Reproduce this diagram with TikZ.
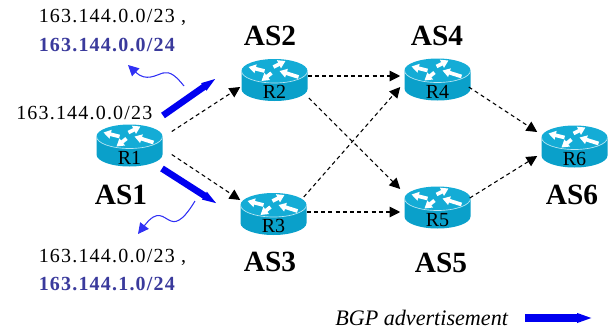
\documentclass[tikz,border=0pt]{standalone}
\usepackage{fontspec}
\setmainfont{Liberation Serif}
\newfontfamily\prefixfont[LetterSpace=6]{Liberation Serif}
\usetikzlibrary{arrows.meta}

\definecolor{routerside}{HTML}{0AA0CA}
\definecolor{routertop}{HTML}{14ACD6}
\definecolor{prefixblue}{HTML}{3A3A9C}
\definecolor{penblue}{HTML}{0000F0}
\definecolor{waveblue}{HTML}{3030F4}

\newcommand{\routernode}[4]{
  \pic at (#2,#3) {routericon};
  \node[router] (#1) at (#2,#3) {#4};
}

\begin{document}
\begin{tikzpicture}[x=0.75pt, y=-0.75pt,
  routerarrow/.style={white, line width=2.8pt, -{Triangle[length=5.5pt, width=6.5pt]}},
  routericon/.pic={
    \fill[routerside] (-33,-9) -- (-33,9) arc[x radius=33, y radius=12, start angle=180, end angle=0] -- (33,-9) -- cycle;
    \fill[routertop] (0,-9) ellipse[x radius=33, y radius=12];
    \draw[white!70!routertop, line width=0.5pt] (-33,-9) arc[x radius=33, y radius=12, start angle=180, end angle=0];
    \draw[routerarrow] (-10,-9) -- (-26,-13);
    \draw[routerarrow] (-1,-13) -- (11,-19);
    \draw[routerarrow] (24,-3) -- (5,-9);
    \draw[routerarrow] (-3,-7) -- (-13,1);
  },
  router/.style={minimum width=49.5pt, inner sep=0pt, text height=32pt, text depth=4pt, font=\fontsize{15}{15}\selectfont},
  asname/.style={font=\fontsize{22}{22}\selectfont\bfseries},
  route/.style={anchor=west, inner sep=0pt, font=\fontsize{15}{15}\prefixfont},
  morespecific/.style={route, font=\fontsize{15}{15}\prefixfont\bfseries, text=prefixblue},
  session/.style={dash pattern=on 3pt off 2.4pt, line width=0.8pt, -{Triangle[length=8pt, width=8pt]}},
  advert/.style={penblue, line width=5pt, -{Triangle[length=13pt, width=5.6pt]}},
  wavy/.style={waveblue, line width=0.8pt, -{Triangle[length=8pt, width=8pt]}}]

\useasboundingbox (0,0) rectangle (608,329);

\routernode{r1}{129.5}{145.5}{R1}
\routernode{r2}{274.5}{80}{R2}
\routernode{r3}{273.5}{214}{R3}
\routernode{r4}{437.5}{79.5}{R4}
\routernode{r5}{437.5}{207.5}{R5}
\routernode{r6}{574.5}{146.5}{R6}

\node[asname] (as1) at (121,195) {AS1};
\node[asname] (as2) at (270,36) {AS2};
\node[asname] (as3) at (270,262) {AS3};
\node[asname] (as4) at (437,36) {AS4};
\node[asname] (as5) at (441,263) {AS5};
\node[asname] (as6) at (572,195) {AS6};

\node[route] (p1) at (16,113) {163.144.0.0/23};
\node[route] (p2) at (38.5,17) {163.144.0.0/23 ,};
\node[morespecific] (p3) at (38.5,45) {163.144.0.0/24};
\node[route] (p4) at (38.5,257) {163.144.0.0/23 ,};
\node[morespecific] (p5) at (38.5,284) {163.144.1.0/24};

\draw[session] ([shift={(9,-14)}]r1.east) -- ([shift={(-1,7)}]r2.west);
\draw[session] ([shift={(9,9)}]r1.east) -- ([shift={(0,-14)}]r3.west);
\draw[session] ([shift={(0,-4)}]r2.east) -- ([shift={(-4,-3.5)}]r4.west);
\draw[session] ([shift={(1,18)}]r2.east) -- ([shift={(-4,-18.5)}]r5.west);
\draw[session] ([shift={(-3,-17)}]r3.east) -- ([shift={(-4,7.5)}]r4.west);
\draw[session] ([shift={(0,-2)}]r3.east) -- ([shift={(-4,4.5)}]r5.west);
\draw[session] ([shift={(-2,7.5)}]r4.east) -- ([shift={(-4,-14.5)}]r6.west);
\draw[session] ([shift={(-1,-9.5)}]r5.east) -- ([shift={(-4,9.5)}]r6.west);

\coordinate (pentail2) at (163,115.5);
\coordinate (pentip2) at (218,77);
\coordinate (pentail3) at (162,168.5);
\coordinate (pentip3) at (219,205);
\coordinate (legendtail) at (525,318);
\coordinate (legendtip) at (593,318);

\draw[advert] (pentail2) -- (pentip2);
\draw[advert] (pentail3) -- (pentip3);

\coordinate (wavestart2) at (184,86);
\coordinate (waveend2) at (128,65);
\coordinate (wavestart3) at (195,201);
\coordinate (waveend3) at (138,234);

\draw[wavy] (wavestart2) .. controls (176,76) and (170,71) .. (163,73) .. controls (156,75) and (146,82) .. (waveend2);
\draw[wavy] (wavestart3) .. controls (186,216) and (178,224) .. (171,221) .. controls (163,218) and (158,208) .. (waveend3);

\node[anchor=west, inner sep=0pt, font=\fontsize{16.6}{17}\selectfont\itshape] (legend) at (335,318) {BGP advertisement};
\draw[advert, line width=6pt, -{Triangle[length=12pt, width=6.5pt]}] (legendtail) -- (legendtip);

\end{tikzpicture}
\end{document}
